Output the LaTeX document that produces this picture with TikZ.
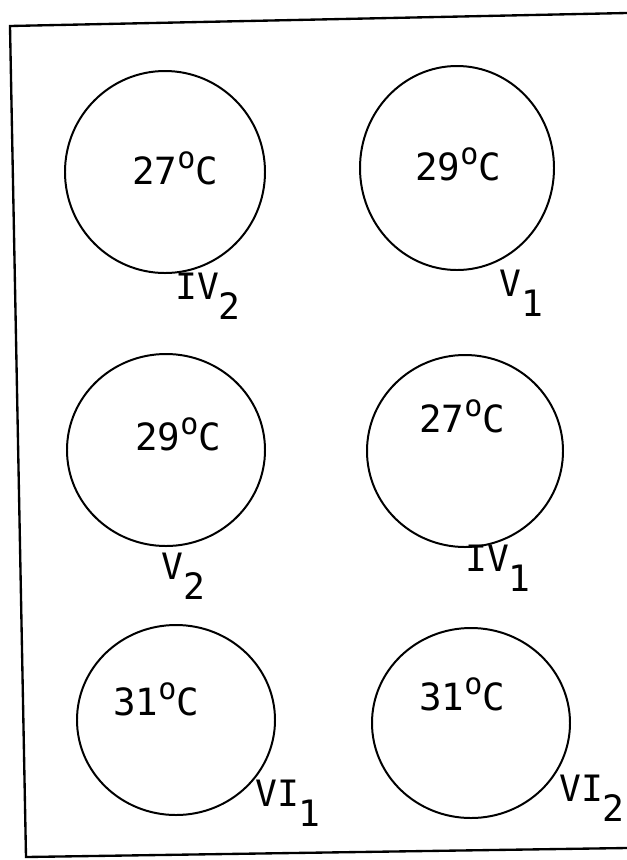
\documentclass[tikz,border=0pt]{standalone}
\usepackage{fontspec}
\newfontfamily\typewr{DejaVu Sans Mono}
\usepackage{tikz}
\usetikzlibrary{shapes.geometric}

% nhiet do va nhan dia
\newcommand{\temp}[1]{#1\raisebox{0.42em}{\scalebox{0.8}{o}}C}
\newcommand{\lowidx}[1]{\raisebox{-0.55em}{#1}}

\begin{document}
\begin{tikzpicture}[x=0.03cm, y=-0.03cm,
    dish/.style={draw, ellipse, line width=1.7pt, inner sep=0pt},
    tlabel/.style={font=\typewr\fontsize{32}{36}\selectfont, inner sep=0pt},
    dlabel/.style={font=\typewr\fontsize{31}{34}\selectfont, inner sep=0pt}]
    \useasboundingbox (0,0) rectangle (627,860);

    % 1. Khung ngoai
    \coordinate (tl) at (10,26);
    \coordinate (tr) at (627,13);
    \coordinate (bl) at (26,857);
    \coordinate (br) at (627,848);
    \draw[line width=2pt] (tr) -- (tl) -- (bl) -- (br);

    % 2. Cac dia (hang 1)
    \node[dish, minimum width=6cm, minimum height=6.06cm] (d1) at (165,172) {};
    \node[dish, minimum width=5.82cm, minimum height=6.12cm] (d2) at (457,168) {};
    \node[tlabel] (t1) at (175,168) {\temp{27}};
    \node[tlabel] (t2) at (458,164) {\temp{29}};
    \node[dlabel] (n1) at (208,296) {IV\lowidx{2}};
    \node[dlabel] (n2) at (521,293) {V\lowidx{1}};

    % 3. Hang 2
    \node[dish, minimum width=5.94cm, minimum height=5.76cm] (d3) at (166,450) {};
    \node[dish, minimum width=5.88cm, minimum height=5.76cm] (d4) at (465,451) {};
    \node[tlabel] (t3) at (178,434) {\temp{29}};
    \node[tlabel] (t4) at (462,416) {\temp{27}};
    \node[dlabel] (n3) at (183,576) {V\lowidx{2}};
    \node[dlabel] (n4) at (498,568) {IV\lowidx{1}};

    % 4. Hang 3
    \node[dish, minimum width=5.94cm, minimum height=5.7cm] (d5) at (176,720) {};
    \node[dish, minimum width=5.94cm, minimum height=5.7cm] (d6) at (471,723) {};
    \node[tlabel] (t5) at (156,699) {\temp{31}};
    \node[tlabel] (t6) at (462,694) {\temp{31}};
    \node[dlabel] (n5) at (288,803) {VI\lowidx{1}};
    \node[dlabel] (n6) at (592,798) {VI\lowidx{2}};

\end{tikzpicture}
\end{document}
